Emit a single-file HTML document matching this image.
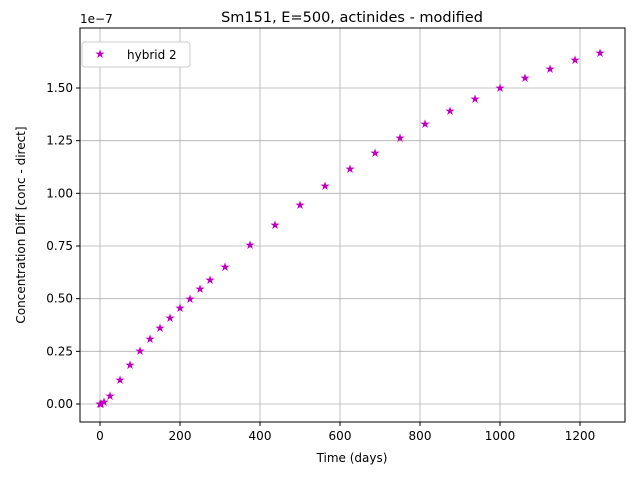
<!DOCTYPE html>
<html><head><meta charset="utf-8"><style>
body{margin:0;background:#fff;font-family:"Liberation Sans","DejaVu Sans",sans-serif}
</style></head><body>
<svg id="chart" width="640" height="480" xmlns="http://www.w3.org/2000/svg" font-family="DejaVu Sans, Liberation Sans, sans-serif">
<rect width="640" height="480" fill="#fff"/>
<text x="352" y="22" font-size="14.5" text-anchor="middle">Sm151, E=500, actinides - modified</text>
<text x="352" y="462" font-size="12" text-anchor="middle">Time (days)</text>
<text x="25" y="225" font-size="12" text-anchor="middle" transform="rotate(-90 25 225)">Concentration Diff [conc - direct]</text>
<text x="80" y="23" font-size="12">1e−7</text>
<g id="grid"></g><g id="ticks"></g><g id="marks"></g>
<rect x="80" y="28" width="545" height="394" fill="none" stroke="#000" stroke-width="1"/>
<g>
<rect x="82" y="42" width="108" height="25" rx="3" fill="#fff" stroke="#ccc"/>
<text x="100" y="58" font-size="12" fill="#bf00bf" text-anchor="middle">★</text>
<text x="127" y="59" font-size="12">hybrid 2</text>
</g>
</svg>
<script>
const days=[0,2.5,10,25,50,75,100,125,150,175,200,225,250,275,312.5,375,437.5,500,562.5,625,687.5,750,812.5,875,937.5,1000,1062.5,1125,1187.5,1250];
const diffs=[0,0,0.01,0.038,0.114,0.185,0.252,0.309,0.361,0.408,0.456,0.498,0.546,0.589,0.650,0.755,0.850,0.945,1.035,1.115,1.191,1.263,1.329,1.391,1.448,1.5,1.547,1.590,1.633,1.666];
const xTicks=[0,200,400,600,800,1000,1200];
const yTicks=[0,0.25,0.5,0.75,1.0,1.25,1.5];
const yTickLabels=["0.00","0.25","0.50","0.75","1.00","1.25","1.50"];
const X=d=>100+d*0.4, Y=v=>404-v*210.67;
const NS="http://www.w3.org/2000/svg";
const grid=document.getElementById('grid'),ticks=document.getElementById('ticks'),marks=document.getElementById('marks');
function mk(tag,attrs,parent){const e=document.createElementNS(NS,tag);for(const k in attrs)e.setAttribute(k,attrs[k]);parent.appendChild(e);return e;}
xTicks.forEach(t=>{const x=X(t);
 const g=mk('line',{x1:x,x2:x,y1:28,y2:422,stroke:'#b0b0b0','stroke-width':0.8},grid);
 
 
 mk('line',{x1:x,x2:x,y1:422,y2:426,stroke:'#000'},ticks);
 const l=mk('text',{x:x,y:440,'font-size':12,'text-anchor':'middle'},ticks);l.textContent=t;
 
 
});
yTicks.forEach((t,i)=>{const y=Y(t);
 const g=mk('line',{x1:80,x2:625,y1:y,y2:y,stroke:'#b0b0b0','stroke-width':0.8},grid);
 
 
 mk('line',{x1:76,x2:80,y1:y,y2:y,stroke:'#000'},ticks);
 const l=mk('text',{x:73,y:y+4,'font-size':12,'text-anchor':'end'},ticks);l.textContent=yTickLabels[i];
 
 
});
days.forEach((d,i)=>{
 const s=mk('text',{x:X(d),y:Y(diffs[i])+4,'font-size':12,fill:'#bf00bf','text-anchor':'middle'},marks);s.textContent='★';
 
 
});
</script>
</body></html>
